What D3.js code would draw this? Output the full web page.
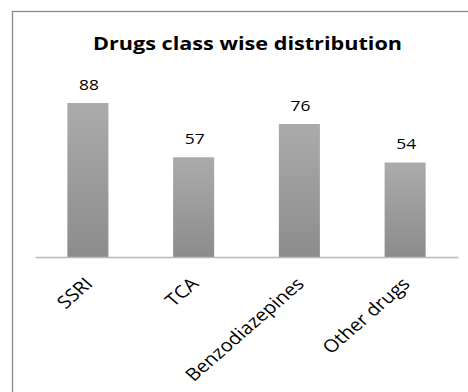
<!DOCTYPE html>
<html>
<head>
<meta charset="utf-8">
<script src="https://cdn.jsdelivr.net/npm/d3@7"></script>
<style>
  html, body { margin: 0; padding: 0; background: #fff; }
  svg { display: block; }
</style>
</head>
<body>
<svg id="chart" width="468" height="392"></svg>
<script>
const title = "Drugs class wise distribution";
const categories = ["SSRI", "TCA", "Benzodiazepines", "Other drugs"];
const values = [88, 57, 76, 54];
const yDomain = [0, 100];

const svg = d3.select("#chart");
const W = 468, H = 392;
const SX = 1.15; // horizontal stretch seen in the reference text

// outer frame (extends beyond the visible area on right/bottom)
svg.append("rect")
  .attr("x", 12.5).attr("y", 11.5)
  .attr("width", W + 20).attr("height", H + 20)
  .attr("fill", "#fff").attr("stroke", "#8a8a8a").attr("stroke-width", 1.3);

const defs = svg.append("defs");
const grad = defs.append("linearGradient").attr("id", "barGrad")
  .attr("x1", 0).attr("y1", 0).attr("x2", 0).attr("y2", 1);
grad.append("stop").attr("offset", "0%").attr("stop-color", "#ababab");
grad.append("stop").attr("offset", "100%").attr("stop-color", "#8c8c8c");

const x = d3.scaleBand().domain(categories).range([35, 458])
  .paddingInner(0.612).paddingOuter(0.306);
const y = d3.scaleLinear().domain(yDomain).range([257, 82]);

// bars
svg.append("g").selectAll("rect").data(values).join("rect")
  .attr("x", (d, i) => x(categories[i]))
  .attr("y", d => y(d))
  .attr("width", x.bandwidth())
  .attr("height", d => y(0) - y(d))
  .attr("fill", "url(#barGrad)");

// axis
const axis = svg.append("g").attr("transform", `translate(0,${y(0)})`)
  .call(d3.axisBottom(x).tickSize(0).tickFormat(""));
axis.select(".domain").attr("stroke", "#b8b8b8").attr("stroke-width", 1.5);

// category labels
svg.append("g").selectAll("text").data(categories).join("text")
  .attr("transform", d => `translate(${x(d) + x.bandwidth() / 2 + 6},${y(0) + 28}) scale(${SX},1) rotate(-45)`)
  .attr("text-anchor", "end")
  .attr("font-family", "'Open Sans', sans-serif")
  .attr("font-size", 17.5)
  .attr("fill", "#000")
  .text(d => d);

// value labels
svg.append("g").selectAll("text").data(values).join("text")
  .attr("transform", (d, i) => `translate(${x(categories[i]) + x.bandwidth() / 2 + 1},${y(d) - 13.5}) scale(1.2,1)`)
  .attr("text-anchor", "middle")
  .attr("font-family", "'Open Sans', sans-serif")
  .attr("font-size", 14.5)
  .attr("fill", "#000")
  .text(d => d);

// title
svg.append("text")
  .attr("x", 247.5).attr("y", 50)
  .attr("text-anchor", "middle")
  .attr("font-family", "'Open Sans', sans-serif")
  .attr("font-weight", "bold")
  .attr("font-size", 18.5)
  .attr("textLength", 309)
  .attr("lengthAdjust", "spacingAndGlyphs")
  .attr("fill", "#000")
  .text(title);
</script>
</body>
</html>
